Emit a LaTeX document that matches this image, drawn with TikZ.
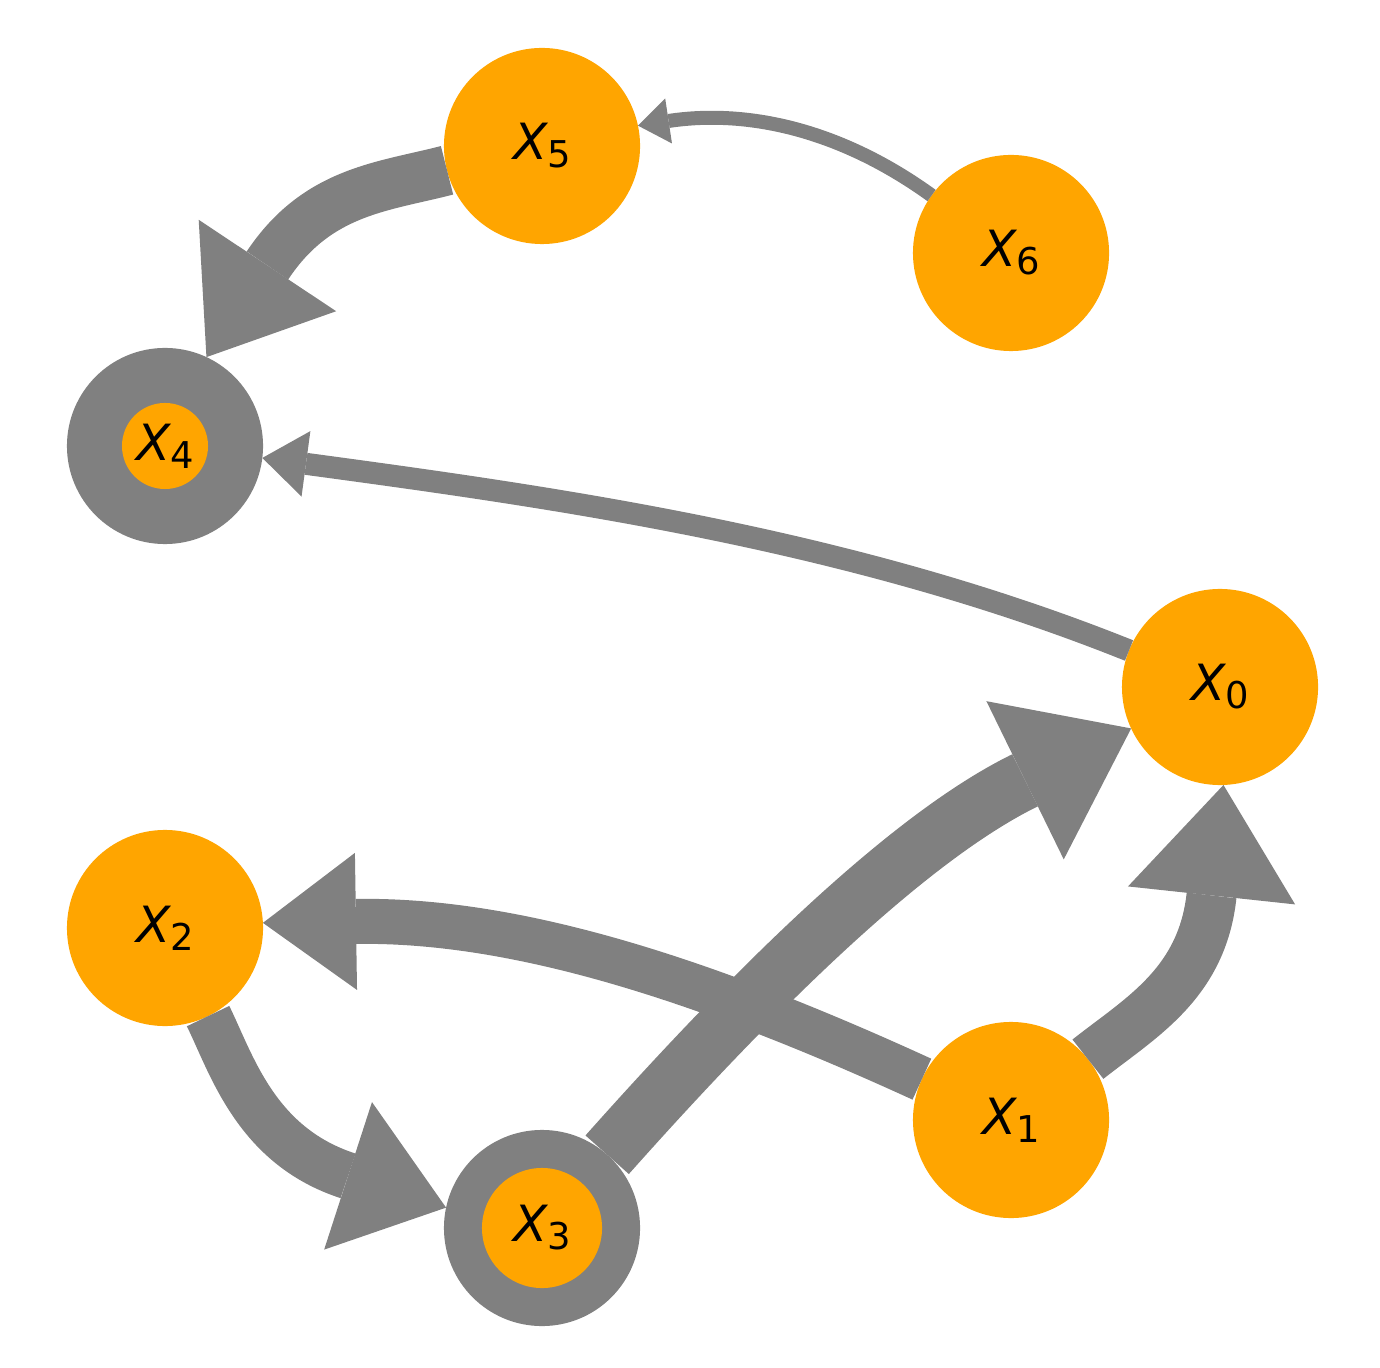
\documentclass[tikz,border=0pt]{standalone}
\usepackage{fontspec}
\usepackage{tikz}
\usetikzlibrary{arrows.meta}
\newfontfamily\dejavu{DejaVu Sans}
\definecolor{vtxorange}{HTML}{FFA500}
\definecolor{edgegray}{HTML}{808080}
\newcommand{\xlab}[1]{{\dejavu\fontsize{14.2pt}{16pt}\selectfont\itshape X\raisebox{-0.08cm}{\fontsize{10.5pt}{12pt}\selectfont\upshape #1}}}
\tikzset{
  vtx/.style={circle, fill=vtxorange, minimum size=1.96cm, inner sep=0pt, outer sep=0pt},
  ring/.style={circle, fill=edgegray, minimum size=1.96cm, inner sep=0pt, outer sep=0pt,
    path picture={\fill[vtxorange] (path picture bounding box.center) circle (#1);}},
  edge/.style={draw=edgegray, line cap=butt}
}

\begin{document}
\begin{tikzpicture}[x=0.01cm, y=-0.01cm]
    \useasboundingbox (0,0) rectangle (1380,1368);
    \node[vtx] (x0) at (1220,687) {\xlab{0}};
    \node[vtx] (x1) at (1011,1120) {\xlab{1}};
    \node[vtx] (x2) at (165,928) {\xlab{2}};
    \node[ring=0.60cm] (x3) at (542,1228) {\xlab{3}};
    \node[ring=0.43cm] (x4) at (165,446) {\xlab{4}};
    \node[vtx] (x5) at (542,146) {\xlab{5}};
    \node[vtx] (x6) at (1011,253) {\xlab{6}};
    \draw[edge, line width=0.14cm, -{Triangle[width=0.455cm,length=0.31cm,line width=0pt]}]
      (x6) .. controls (841,130) and (748,109) .. (x5.12);
    \draw[edge, line width=0.50cm, -{Triangle[width=1.65cm,length=1.10cm,line width=0pt]}]
      (x5) .. controls (382,187) and (317,191) .. (x4.65);
    \draw[edge, line width=0.22cm, -{Triangle[width=0.66cm,length=0.44cm,line width=0pt]}]
      (x0) .. controls (851,539) and (559,498) .. (x4.-7);
    \draw[edge, line width=0.58cm, -{Triangle[width=1.76cm,length=1.18cm,line width=0pt]}]
      (x3) .. controls (751,993) and (907,838) .. (x0.205);
    \draw[edge, line width=0.50cm, -{Triangle[width=1.68cm,length=1.11cm,line width=0pt]}]
      (x1) .. controls (1140,1018) and (1202,984) .. (x0.272);
    \draw[edge, line width=0.45cm, -{Triangle[width=1.37cm,length=0.93cm,line width=0pt]}]
      (x1) .. controls (699,977) and (513,919) .. (x2.3);
    \draw[edge, line width=0.47cm, -{Triangle[width=1.55cm,length=1.03cm,line width=0pt]}]
      (x2) .. controls (232,1065) and (256,1146) .. (x3.168);
\end{tikzpicture}
\end{document}
